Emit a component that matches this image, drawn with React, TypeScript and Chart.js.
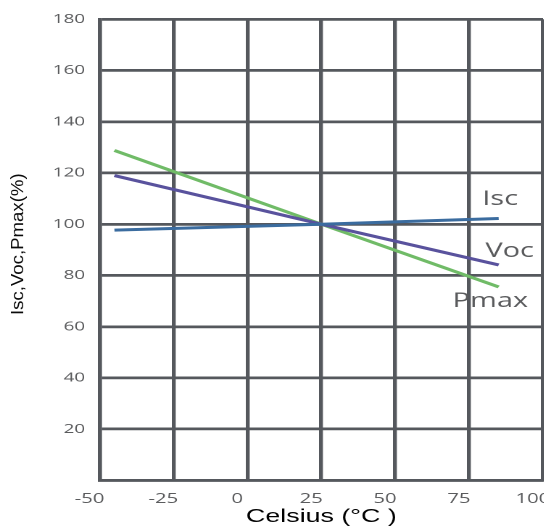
import React, { useEffect, useRef } from 'react';
import { Chart, registerables } from 'chart.js';

Chart.register(...registerables);

// ---- data ----
const temperatures = [-45, 25, 85];
const iscValues = [97.7, 100, 102.2];
const vocValues = [119.0, 100, 84.1];
const pmaxValues = [128.8, 100, 75.5];
const seriesNames = ['Isc', 'Voc', 'Pmax'];
const seriesLabelTemps = [85.5, 88.7, 82.2];
const seriesLabelValues = [109.8, 89.4, 69.8];
const xTickValues = [-50, -25, 0, 25, 50, 75, 100];
const yTickValues = [0, 20, 40, 60, 80, 100, 120, 140, 160, 180];
const xTitle = 'Celsius (°C )';
const yTitle = 'Isc,Voc,Pmax(%)';

// ---- layout / style ----
const STRETCH = 1.45;
const GRID = '#55585d';
const LABEL = '#5a5b5d';

const annotations = {
  id: 'annotations',
  afterDatasetsDraw(chart: any) {
    const { ctx, scales } = chart;
    const x = scales.x;
    const y = scales.y;
    ctx.save();
    ctx.font = '20px "Open Sans"';
    ctx.fillStyle = LABEL;
    ctx.textAlign = 'center';
    ctx.textBaseline = 'middle';
    seriesNames.forEach((n, i) => {
      ctx.fillText(n, x.getPixelForValue(seriesLabelTemps[i]), y.getPixelForValue(seriesLabelValues[i]));
    });
    ctx.restore();

    ctx.save();
    ctx.translate(13.0, 244.2);
    ctx.rotate(-Math.PI / 2);
    ctx.font = '17px "Liberation Sans"';
    const w = ctx.measureText(yTitle).width;
    ctx.scale(141.7 / w, 1 / STRETCH);
    ctx.fillStyle = '#0a0a0a';
    ctx.textAlign = 'center';
    ctx.textBaseline = 'middle';
    ctx.fillText(yTitle, 0, 0);
    ctx.restore();
  },
};

export default function App() {
  const canvasRef = useRef<HTMLCanvasElement | null>(null);

  useEffect(() => {
    if (!canvasRef.current) return;
    const mk = (label: string, values: number[], color: string) => ({
      label,
      data: temperatures.map((t, i) => ({ x: t, y: values[i] })),
      borderColor: color,
      backgroundColor: color,
      borderWidth: 3,
      pointRadius: 0,
      tension: 0,
      fill: false,
    });
    const chart = new Chart(canvasRef.current, {
      type: 'line',
      data: {
        datasets: [
          mk(seriesNames[0], iscValues, '#3b6c9f'),
          mk(seriesNames[1], vocValues, '#59529d'),
          mk(seriesNames[2], pmaxValues, '#70bb67'),
        ],
      },
      options: {
        animation: false,
        responsive: true,
        maintainAspectRatio: false,
        devicePixelRatio: 2,
        layout: { padding: { left: 36.3, top: 19.3, right: 20, bottom: 0 } },
        plugins: { legend: { display: false }, tooltip: { enabled: false } },
        scales: {
          x: {
            type: 'linear',
            min: -50,
            max: 100,
            afterBuildTicks: (s: any) => {
              s.ticks = xTickValues.map((v) => ({ value: v }));
            },
            afterFit: (s: any) => {
              s.height = 50.7;
            },
            grid: { color: GRID, lineWidth: 2.7, drawTicks: false },
            border: { color: GRID, width: 2.7 },
            ticks: {
              padding: 10.5,
              labelOffset: -7,
              maxRotation: 0,
              autoSkip: false,
              color: LABEL,
              font: { family: '"Open Sans"', size: 14 },
            },
            title: {
              display: true,
              text: xTitle,
              color: '#000000',
              padding: { top: 0, bottom: 3 },
              font: { family: '"Liberation Sans"', size: 18.5 },
            },
          },
          y: {
            type: 'linear',
            min: 0,
            max: 180,
            afterBuildTicks: (s: any) => {
              s.ticks = yTickValues.map((v) => ({ value: v }));
            },
            afterFit: (s: any) => {
              s.width = 32.4;
            },
            grid: { color: GRID, lineWidth: 2.7, drawTicks: false },
            border: { color: GRID, width: 2.7 },
            ticks: {
              padding: 10,
              autoSkip: false,
              color: LABEL,
              font: { family: '"Open Sans"', size: 13 },
              callback: (v: any) => (v === 0 ? '' : String(v)),
            },
          },
        },
      },
      plugins: [annotations],
    } as any);
    return () => chart.destroy();
  }, []);

  return (
    <div style={{ position: 'absolute', left: 0, top: 0, width: 544, height: 531, overflow: 'hidden', background: '#ffffff' }}>
      <div style={{ width: 397, height: 531, transform: `scaleX(${STRETCH})`, transformOrigin: '0 0' }}>
        <canvas ref={canvasRef} />
      </div>
    </div>
  );
}
